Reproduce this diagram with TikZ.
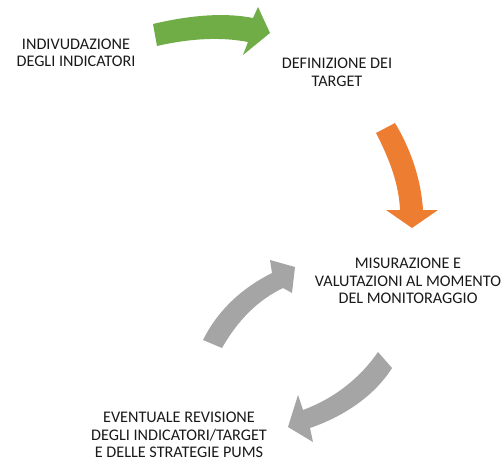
\documentclass[tikz,border=0pt]{standalone}
\usepackage{fontspec}
\setmainfont{Carlito}
\usetikzlibrary{positioning}
\definecolor{grn}{RGB}{112,173,71}
\definecolor{org}{RGB}{237,125,49}
\definecolor{gry}{RGB}{165,165,165}
\tikzset{
  every picture/.style={line width=0.6pt},
  lbl/.style={align=center,text=black!90,inner sep=1pt,font=\fontsize{16.2}{17.6}\selectfont},
  arw/.style={draw=none},
}

\begin{document}
\begin{tikzpicture}[x=1pt,y=-1pt]
\useasboundingbox (0,0) rectangle (502,473);
% labels
\node[lbl] (ind) at (76,53) {INDIVUDAZIONE\\DEGLI INDICATORI};
\node[lbl] (def) at (337,72) {DEFINIZIONE DEI\\TARGET};
\node[lbl] (mis) at (408,281) {MISURAZIONE E\\VALUTAZIONI AL MOMENTO\\DEL MONITORAGGIO};
\node[lbl] (rev) at (179,435) {EVENTUALE REVISIONE\\DEGLI INDICATORI/TARGET\\E DELLE STRATEGIE PUMS};
% green arrow
\fill[grn] (153,24) .. controls (195,14) and (228,13) .. (253,18) -- (258,7) -- (270,33)
  -- (243,55) -- (248,42) .. controls (222,37) and (192,38) .. (157,46) -- cycle;
% orange arrow
\fill[org] (376,133) .. controls (390,160) and (399,185) .. (400,210) -- (386,210) -- (412,228)
  -- (438,210) -- (423,210) .. controls (421,178) and (410,148) .. (395,123) -- cycle;
% grey arrows
\fill[gry] (378,352) .. controls (360,378) and (335,398) .. (303,410) -- (298,395) -- (288,427)
  -- (313,442) -- (310,428) .. controls (345,416) and (375,395) .. (392,368) -- cycle;
\fill[gry] (203,340) .. controls (218,310) and (242,288) .. (272,273) -- (270,260) -- (295,267)
  -- (292,293) -- (283,288) .. controls (258,300) and (238,320) .. (222,348) -- cycle;
\end{tikzpicture}
\end{document}
